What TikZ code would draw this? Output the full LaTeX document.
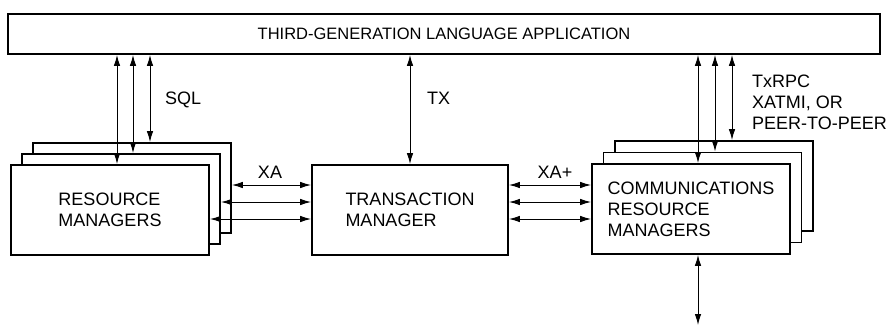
\documentclass[tikz,border=0pt]{standalone}
\usepackage{fontspec}
\setmainfont{Liberation Sans}
\usetikzlibrary{arrows.meta,positioning}

\begin{document}
\begin{tikzpicture}[x=1pt,y=-1pt,
	box/.style={draw,line width=1.8pt,fill=white,minimum width=198pt,minimum height=90pt,align=left,font=\fontsize{18}{21}\selectfont},
	arr/.style={{Latex[length=11pt,width=6.5pt]}-{Latex[length=11pt,width=6.5pt]},line width=1pt},
	lbl/.style={font=\fontsize{18}{21}\selectfont,inner sep=0pt}]
\useasboundingbox (0,0) rectangle (892,327);

\node[box,minimum width=872pt,minimum height=40pt,font=\fontsize{16.5}{20}\selectfont] (app) at (444,34) {THIRD-GENERATION LANGUAGE APPLICATION};

% stacked resource managers
\foreach \i/\x/\y in {3/132/188,2/121/199}
	\node[box] (rm\i) at (\x,\y) {};
\node[box] (rm1) at (110,210) {RESOURCE\\MANAGERS};

\node[box,minimum width=196pt] (tm) at (410,210) {TRANSACTION\\MANAGER};

% stacked communications resource managers
\foreach \i/\x/\y in {3/714/186,2/702.5/197.5}
	\node[box] (crm\i) at (\x,\y) {};
\node[box] (crm1) at (691,209) {COMMUNICATIONS\\RESOURCE\\MANAGERS};

\foreach \i/\x in {1/117,2/133,3/150}
	\coordinate (s\i) at (\x,0);
\foreach \i/\x in {1/698,2/715,3/732}
	\coordinate (c\i) at (\x,0);
\foreach \i/\y in {1/219,2/202,3/185}
	\coordinate (h\i) at (0,\y);
\coordinate (ext) at (698,325);

\foreach \i in {1,2,3}
	\draw[arr] (app.south -| s\i) -- (rm\i.north -| s\i);
\foreach \i in {1,2,3}
	\draw[arr] (app.south -| c\i) -- (crm\i.north -| c\i);
\draw[arr] (app.south -| tm.north) -- (tm.north);

\foreach \i in {1,2,3}
	\draw[arr] (rm\i.east |- h\i) -- (tm.west |- h\i);
\foreach \i in {1,2,3}
	\draw[arr] (tm.east |- h\i) -- (crm1.west |- h\i);

\draw[arr] (crm1.south -| ext) -- (ext);

\node[lbl,anchor=base west] (sql) at (165,104) {SQL};
\node[lbl,anchor=base west] (tx) at (427,104) {TX};
\node[lbl,anchor=base] (xa) at (270,178) {XA};
\node[lbl,anchor=base] (xaplus) at (555,178) {XA+};
\node[lbl,anchor=north west,align=left] (proto) at (752,75) {TxRPC\\XATMI, OR\\PEER-TO-PEER};
\end{tikzpicture}
\end{document}
